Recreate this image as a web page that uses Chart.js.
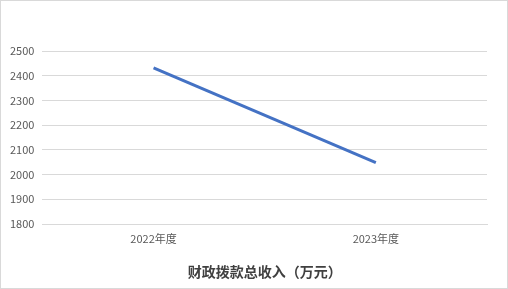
<!DOCTYPE html>
<html><head><meta charset="utf-8">
<script src="https://cdn.jsdelivr.net/npm/chart.js@4"></script>
<style>
html,body{margin:0;padding:0;background:#fff;}
#wrap{width:508px;height:289px;box-sizing:border-box;border:1px solid #d9d9d9;position:relative;}
canvas{display:block;}
</style></head>
<body><div id="wrap"><canvas id="c" width="506" height="287"></canvas></div>
<script>
const categories = ["2022年度", "2023年度"];
const seriesValues = [2432, 2048];
const yTicks = [1800, 1900, 2000, 2100, 2200, 2300, 2400, 2500];
const chartTitle = "财政拨款总收入（万元）";

const font = "'Microsoft YaHei','Noto Sans CJK SC','DejaVu Sans',sans-serif";
new Chart(document.getElementById('c'), {
  type: 'line',
  data: {
    labels: categories,
    datasets: [{
      data: seriesValues,
      borderColor: '#4472c4',
      borderWidth: 3,
      pointRadius: 0,
      tension: 0,
      fill: false
    }]
  },
  options: {
    responsive: false,
    animation: false,
    devicePixelRatio: 1,
    layout: { padding: { top: 50, left: 1, right: 20, bottom: 6 } },
    plugins: {
      legend: { display: false },
      tooltip: { enabled: false },
      title: { display: false }
    },
    scales: {
      x: {
        offset: true,
        grid: { display: false, drawTicks: false },
        border: { display: true, color: '#d9d9d9' },
        ticks: { color: '#595959', font: { family: font, size: 11 }, padding: 8 },
        title: {
          display: true,
          text: chartTitle,
          color: '#404040',
          font: { family: font, size: 14, weight: 'bold' },
          padding: { top: 10, bottom: 2 }
        }
      },
      y: {
        min: 1800, max: 2500,
        afterBuildTicks: (s) => { s.ticks = yTicks.map(v => ({ value: v })); },
        grid: { color: '#d9d9d9', drawTicks: false },
        border: { display: false },
        ticks: { color: '#595959', font: { family: font, size: 11 }, padding: 8,
                 callback: (v) => String(v) }
      }
    }
  }
});
</script></body></html>
